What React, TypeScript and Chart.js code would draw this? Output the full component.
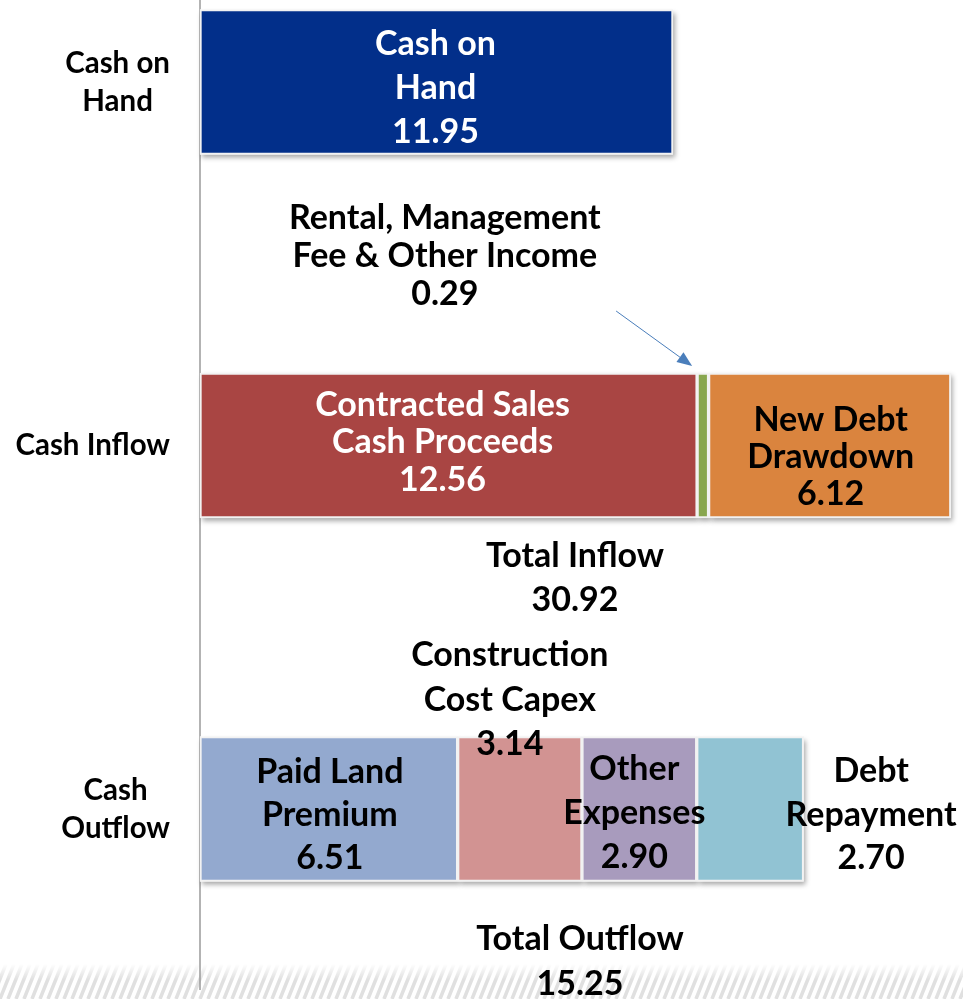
import React, { useEffect, useRef } from 'react';
import { Chart, registerables } from 'chart.js';

Chart.register(...registerables);

// ---- data ----
const categories: string[][] = [["Cash on", "Hand"], ["Cash Inflow"], ["Cash", "Outflow"]];

const seg1Values: (number | null)[] = [11.95, 12.56, 6.51];
const seg2Values: (number | null)[] = [null, 0.29, 3.14];
const seg3Values: (number | null)[] = [null, 6.12, 2.90];
const seg4Values: (number | null)[] = [null, null, 2.70];

const seg1Names: (string[] | null)[] = [["Cash on", "Hand"], ["Contracted Sales", "Cash Proceeds"], ["Paid Land", "Premium"]];
const seg2Names: (string[] | null)[] = [null, ["Rental, Management", "Fee & Other Income"], ["Construction", "Cost Capex"]];
const seg3Names: (string[] | null)[] = [null, ["New Debt", "Drawdown"], ["Other", "Expenses"]];
const seg4Names: (string[] | null)[] = [null, null, ["Debt", "Repayment"]];

const totalNames: (string | null)[] = [null, "Total Inflow", "Total Outflow"];

const seg1Colors = ['#022F8A', '#A94543', '#93A9CF'];
const seg2Colors = [null, '#88A64E', '#D29392'];
const seg3Colors = [null, '#DA843E', '#A89BBD'];
const seg4Colors = [null, null, '#91C3D3'];

const FONT = 'Lato, "Open Sans", sans-serif';
const LABEL_SIZE = 34;
const AXIS_SIZE = 29.5;

// label placement: offsets from the segment's centre (px), line height, colour
type Place = { dx: number; dy: number; lh: number; color: string };
const placements: Record<string, Place> = {
  '0-0': { dx: -1, dy: 6, lh: 44, color: '#ffffff' },
  '0-1': { dx: -6, dy: -3, lh: 37.5, color: '#ffffff' },
  '0-2': { dx: 1, dy: 6, lh: 43, color: '#000000' },
  '1-1': { dx: -258, dy: -189, lh: 38, color: '#000000' },
  '1-2': { dx: -10, dy: -109, lh: 44.5, color: '#000000' },
  '2-1': { dx: 1, dy: 12, lh: 37, color: '#000000' },
  '2-2': { dx: -5, dy: 4, lh: 44, color: '#000000' },
  '3-2': { dx: 121, dy: 6, lh: 43.5, color: '#000000' },
};
const totalPlacements: Record<number, { x: number; dy: number; lh: number }> = {
  1: { x: 575, dy: 133, lh: 44 },
  2: { x: 580, dy: 153, lh: 45 },
};

const allValues = [seg1Values, seg2Values, seg3Values, seg4Values];
const allNames = [seg1Names, seg2Names, seg3Names, seg4Names];
const allColors = [seg1Colors, seg2Colors, seg3Colors, seg4Colors];

function drawLines(ctx: CanvasRenderingContext2D, lines: string[], x: number, cy: number, lh: number) {
  const n = lines.length;
  lines.forEach((t, k) => {
    ctx.fillText(t, x, cy + (k - (n - 1) / 2) * lh);
  });
}

const decor = {
  id: 'decor',
  beforeDraw(chart: any) {
    const ctx: CanvasRenderingContext2D = chart.ctx;
    const W = chart.width, H = chart.height;
    ctx.save();
    ctx.fillStyle = '#ffffff';
    ctx.fillRect(0, 0, W, H);
    // hatched band at the bottom
    const top = 964;
    ctx.beginPath();
    ctx.rect(0, top, W, H - top);
    ctx.clip();
    ctx.strokeStyle = '#e0e0e0';
    ctx.lineWidth = 3.5;
    for (let x = -40; x < W + 40; x += 8) {
      ctx.beginPath();
      ctx.moveTo(x, H);
      ctx.lineTo(x + 14, top);
      ctx.stroke();
    }
    const g = ctx.createLinearGradient(0, top, 0, top + 16);
    g.addColorStop(0, 'rgba(255,255,255,1)');
    g.addColorStop(1, 'rgba(255,255,255,0)');
    ctx.fillStyle = g;
    ctx.fillRect(0, top, W, 16);
    ctx.restore();
    // axis line
    const left = chart.chartArea.left;
    ctx.save();
    ctx.strokeStyle = '#9a9a9a';
    ctx.lineWidth = 1.5;
    ctx.beginPath();
    ctx.moveTo(left, 0);
    ctx.lineTo(left, 990);
    ctx.stroke();
    ctx.restore();
  },
  beforeDatasetsDraw(chart: any) {
    const ctx: CanvasRenderingContext2D = chart.ctx;
    ctx.save();
    ctx.shadowColor = 'rgba(0,0,0,0.35)';
    ctx.shadowBlur = 5;
    ctx.shadowOffsetX = 2;
    ctx.shadowOffsetY = 3;
    ctx.fillStyle = '#ffffff';
    chart.data.datasets.forEach((ds: any, di: number) => {
      const meta = chart.getDatasetMeta(di);
      meta.data.forEach((el: any, i: number) => {
        if (ds.data[i] == null) return;
        const { x, y, base, height } = el.getProps(['x', 'y', 'base', 'height'], true);
        ctx.fillRect(Math.min(x, base), y - height / 2, Math.abs(x - base), height);
      });
    });
    ctx.restore();
  },
  afterDatasetsDraw(chart: any) {
    const ctx: CanvasRenderingContext2D = chart.ctx;
    const yScale = chart.scales.y;
    const area = chart.chartArea;
    ctx.save();
    ctx.textAlign = 'center';
    ctx.textBaseline = 'middle';
    // segment labels
    ctx.font = `bold ${LABEL_SIZE}px ${FONT}`;
    chart.data.datasets.forEach((ds: any, di: number) => {
      const meta = chart.getDatasetMeta(di);
      meta.data.forEach((el: any, i: number) => {
        const v = ds.data[i];
        const names = allNames[di][i];
        const p = placements[`${di}-${i}`];
        if (v == null || !names || !p) return;
        const { x, y, base } = el.getProps(['x', 'y', 'base'], true);
        const cx = (x + base) / 2 + p.dx;
        const cy = y + p.dy;
        ctx.fillStyle = p.color;
        drawLines(ctx, [...names, v.toFixed(2)], cx, cy, p.lh);
      });
    });
    // totals
    ctx.fillStyle = '#000000';
    totalNames.forEach((name, i) => {
      const tp = totalPlacements[i];
      if (!name || !tp) return;
      let sum = 0;
      allValues.forEach(arr => { sum += arr[i] ?? 0; });
      if (i === 1) allValues.forEach(arr => { sum += arr[0] ?? 0; });
      drawLines(ctx, [name, sum.toFixed(2)], tp.x, yScale.getPixelForValue(i) + tp.dy, tp.lh);
    });
    // arrow pointing to the thin segment
    const gEl = chart.getDatasetMeta(1).data[1];
    if (gEl) {
      const { y, base, height } = gEl.getProps(['x', 'y', 'base', 'height'], true);
      const tipX = base - 5, tipY = y - height / 2 - 7;
      const fromX = tipX - 76, fromY = tipY - 55;
      const ang = Math.atan2(tipY - fromY, tipX - fromX);
      const hl = 15, hw = 6;
      ctx.strokeStyle = '#4A7EBB';
      ctx.fillStyle = '#4A7EBB';
      ctx.lineWidth = 1;
      ctx.beginPath();
      ctx.moveTo(fromX, fromY);
      ctx.lineTo(tipX - Math.cos(ang) * hl, tipY - Math.sin(ang) * hl);
      ctx.stroke();
      const bx = tipX - Math.cos(ang) * hl, by = tipY - Math.sin(ang) * hl;
      ctx.beginPath();
      ctx.moveTo(tipX, tipY);
      ctx.lineTo(bx + Math.sin(ang) * hw, by - Math.cos(ang) * hw);
      ctx.lineTo(bx - Math.sin(ang) * hw, by + Math.cos(ang) * hw);
      ctx.closePath();
      ctx.fill();
    }
    // category labels on the left
    ctx.font = `bold ${AXIS_SIZE}px ${FONT}`;
    ctx.fillStyle = '#000000';
    const rightEdge = area.left - 30;
    categories.forEach((lines, i) => {
      const widest = Math.max(...lines.map(t => ctx.measureText(t).width));
      drawLines(ctx, lines, rightEdge - widest / 2, yScale.getPixelForValue(i), 38);
    });
    ctx.restore();
  },
};

export default function App() {
  const ref = useRef<HTMLCanvasElement>(null);
  useEffect(() => {
    if (!ref.current) return;
    const datasets = allValues.map((vals, k) => ({
      label: `Segment ${k + 1}`,
      data: vals,
      backgroundColor: allColors[k].map(c => c ?? 'rgba(0,0,0,0)'),
      borderColor: '#f2f2f2',
      borderWidth: 2,
      borderSkipped: false,
      barThickness: 145,
      clip: false,
    }));
    const chart = new Chart(ref.current, {
      type: 'bar',
      data: { labels: categories.map(c => c.join(' ')), datasets: datasets as any },
      options: {
        indexAxis: 'y',
        animation: false,
        responsive: false,
        maintainAspectRatio: false,
        layout: { padding: { left: 200, right: 11, top: 82, bottom: 190 } },
        scales: {
          x: { stacked: true, min: 0, max: 19, display: false },
          y: { stacked: true, offset: false, display: false },
        },
        plugins: { legend: { display: false }, tooltip: { enabled: false } },
      },
      plugins: [decor],
    });
    return () => chart.destroy();
  }, []);
  return (
    <div style={{ position: 'fixed', left: 0, top: 0, width: 963, height: 999, overflow: 'hidden' }}>
      <canvas ref={ref} width={963} height={999} style={{ display: 'block', width: 963, height: 999 }} />
    </div>
  );
}
